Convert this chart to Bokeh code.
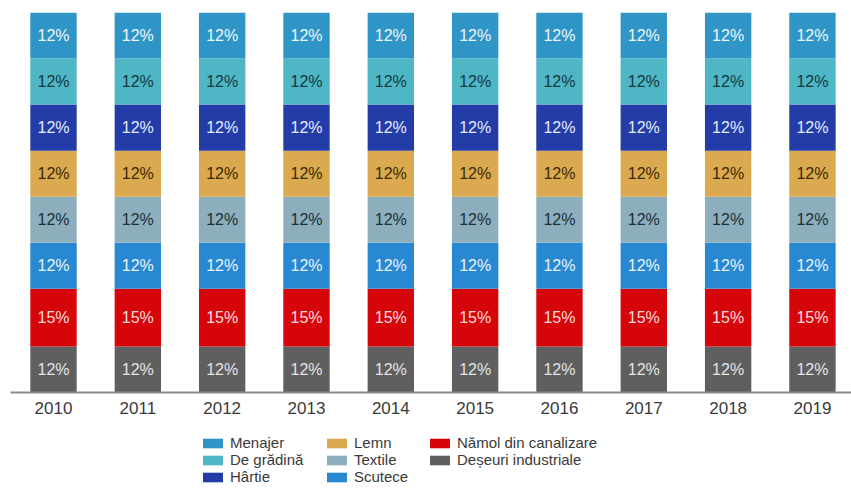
from bokeh.plotting import figure
from bokeh.layouts import column
from bokeh.models import Range1d, FixedTicker, Legend, LegendItem, ColumnDataSource
from bokeh.core.properties import value
from bokeh.embed import file_html
from bokeh.resources import INLINE

years = [2010, 2011, 2012, 2013, 2014, 2015, 2016, 2017, 2018, 2019]

# bottom to top
deseuri = [12, 12, 12, 12, 12, 12, 12, 12, 12, 12]
namol = [15, 15, 15, 15, 15, 15, 15, 15, 15, 15]
scutece = [12, 12, 12, 12, 12, 12, 12, 12, 12, 12]
textile = [12, 12, 12, 12, 12, 12, 12, 12, 12, 12]
lemn = [12, 12, 12, 12, 12, 12, 12, 12, 12, 12]
hartie = [12, 12, 12, 12, 12, 12, 12, 12, 12, 12]
gradina = [12, 12, 12, 12, 12, 12, 12, 12, 12, 12]
menajer = [12, 12, 12, 12, 12, 12, 12, 12, 12, 12]

series = [
    ("deseuri", "Deșeuri industriale", deseuri, "#5f5f5f", "#e4e4e4"),
    ("namol", "Nămol din canalizare", namol, "#d6050a", "#ffdede"),
    ("scutece", "Scutece", scutece, "#2888d2", "#eaf4ff"),
    ("textile", "Textile", textile, "#8caebd", "#1c2e38"),
    ("lemn", "Lemn", lemn, "#dba94f", "#3a2a05"),
    ("hartie", "Hârtie", hartie, "#243ca8", "#e4ecff"),
    ("gradina", "De grădină", gradina, "#4fb6c6", "#14393e"),
    ("menajer", "Menajer", menajer, "#2f95c6", "#eef8fc"),
]
legend_columns = [
    ["menajer", "gradina", "hartie"],
    ["lemn", "textile", "scutece"],
    ["namol", "deseuri"],
]

data = {"year": years}
for key, _, vals, _, _ in series:
    data[key] = vals
source = ColumnDataSource(data)

p = figure(
    width=851, height=420,
    output_backend="svg", toolbar_location=None,
    x_range=Range1d(2009.49, 2019.463), y_range=Range1d(0, 99),
    min_border_left=10, min_border_right=0, min_border_top=12, min_border_bottom=28,
)
p.outline_line_color = None
p.grid.visible = False
p.yaxis.visible = False

p.vbar_stack(
    [s[0] for s in series], x="year", width=0.55, source=source,
    color=[s[3] for s in series], line_color=None,
)

# segment labels
cum = [0.0] * len(years)
for key, name, vals, col, tcol in series:
    mids = [c + v / 2 for c, v in zip(cum, vals)]
    cum = [c + v for c, v in zip(cum, vals)]
    p.text(x=years, y=mids, text=[f"{v}%" for v in vals],
           text_align="center", text_baseline="middle",
           text_font=value("Liberation Sans"), text_font_size="16px",
           text_color=tcol)

ax = p.xaxis[0]
ax.ticker = FixedTicker(ticks=years)
ax.major_tick_line_color = None
ax.minor_tick_line_color = None
ax.axis_line_color = "#8a8a8a"
ax.axis_line_width = 2
ax.major_label_standoff = 3
ax.major_label_text_font = "Liberation Sans"
ax.major_label_text_font_size = "17px"
ax.major_label_text_color = "#3a3a3a"

# legend panel underneath (swatch renderers sit outside its visible range)
lg = figure(
    width=851, height=80, output_backend="svg", toolbar_location=None,
    x_range=Range1d(0, 1), y_range=Range1d(0, 1),
    x_axis_type=None, y_axis_type=None,
    min_border_left=0, min_border_right=0, min_border_top=0, min_border_bottom=0,
)
lg.outline_line_color = None
lg.grid.visible = False
info = {s[0]: s for s in series}
renderer_for = {}
for key, name, vals, col, tcol in series:
    renderer_for[key] = lg.vbar(x=years[:1], top=vals[:1], width=0.55,
                                color=col, line_color=None)

col_x = [190, 314, 417]
row_y = [49, 32, 15]
for xpos, keys in zip(col_x, legend_columns):
    for ypos, k in zip(row_y, keys):
        leg = Legend(items=[LegendItem(label=info[k][1], renderers=[renderer_for[k]])],
                     location=(xpos, ypos), border_line_color=None,
                     background_fill_alpha=0,
                     glyph_width=25, glyph_height=12, label_height=16,
                     label_standoff=5, spacing=0, padding=0, margin=0,
                     label_text_font="Liberation Sans", label_text_font_size="15px",
                     label_text_color="#3a3a3a")
        lg.add_layout(leg, "center")

layout = column(p, lg, spacing=0)
open("out.html", "w").write(file_html(layout, INLINE))
